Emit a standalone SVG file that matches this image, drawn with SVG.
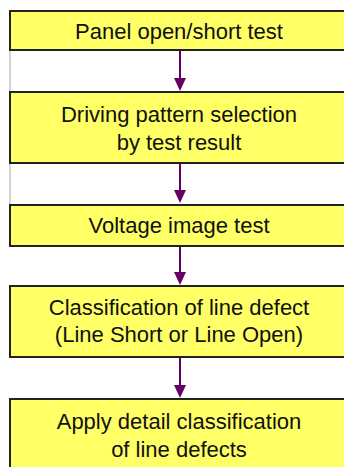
<svg xmlns="http://www.w3.org/2000/svg" width="344" height="467" viewBox="0 0 344 467">
<defs>
<style>
.box{fill:#FFFF66;stroke:#222;stroke-width:2}
.t{font-family:"Liberation Sans",Arial,sans-serif;font-size:22px;fill:#111;text-anchor:middle}
.c{stroke:#660066;stroke-width:2;fill:none}
.ah{fill:#660066}
</style>
</defs>
<rect width="344" height="467" fill="#fff"/>
<line x1="10" y1="50" x2="10" y2="205" stroke="#aaa" stroke-width="1"/>
<g id="connectors">
<line class="c" x1="180" y1="51" x2="180" y2="78"/><path class="ah" d="M174,78 L186,78 L180,91 Z"/>
<line class="c" x1="180" y1="164" x2="180" y2="190"/><path class="ah" d="M174,190 L186,190 L180,203 Z"/>
<line class="c" x1="180" y1="247" x2="180" y2="272"/><path class="ah" d="M174,272 L186,272 L180,285 Z"/>
<line class="c" x1="180" y1="358" x2="180" y2="385"/><path class="ah" d="M174,385 L186,385 L180,398 Z"/>
</g>
<g id="n1"><rect class="box" x="10" y="11" width="340" height="39"/><text class="t" x="179" y="39">Panel open/short test</text></g>
<g id="n2"><rect class="box" x="10" y="92" width="340" height="71"/><text class="t" x="179" y="122">Driving pattern selection</text><text class="t" x="179" y="150">by test result</text></g>
<g id="n3"><rect class="box" x="10" y="205" width="340" height="41"/><text class="t" x="179" y="233">Voltage image test</text></g>
<g id="n4"><rect class="box" x="10" y="286" width="340" height="71"/><text class="t" x="179" y="315">Classification of line defect</text><text class="t" x="179" y="342">(Line Short or Line Open)</text></g>
<g id="n5"><rect class="box" x="10" y="399" width="340" height="80"/><text class="t" x="179" y="429">Apply detail classification</text><text class="t" x="179" y="457">of line defects</text></g>
</svg>
